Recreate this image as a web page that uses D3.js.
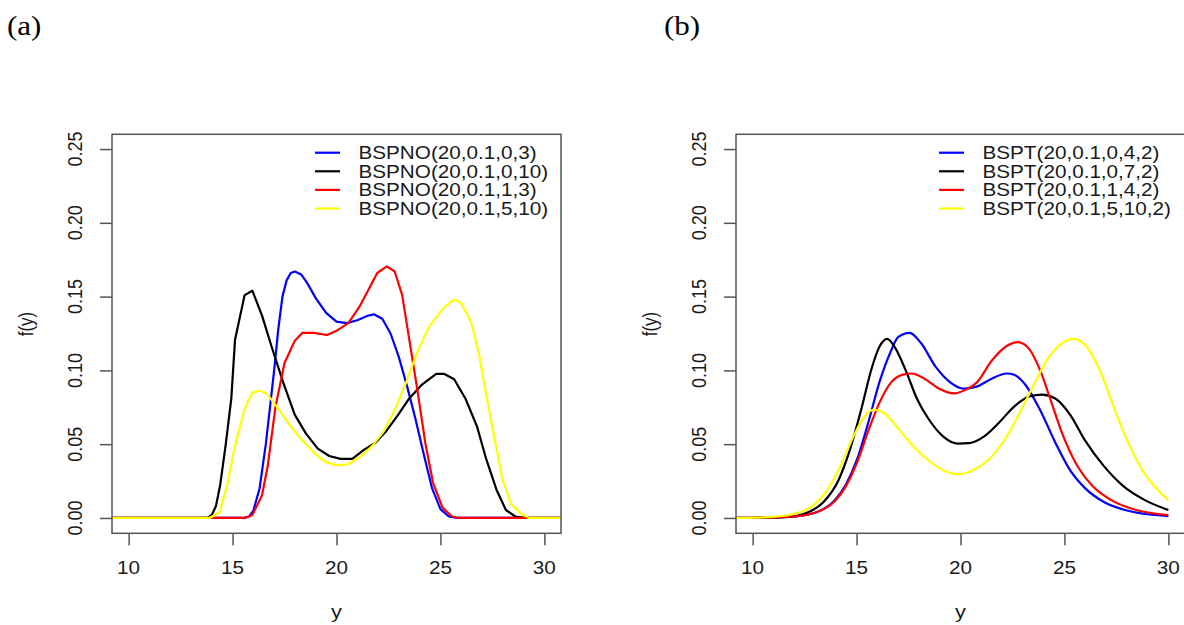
<!DOCTYPE html>
<html>
<head>
<meta charset="utf-8">
<script src="https://cdnjs.cloudflare.com/ajax/libs/d3/7.8.5/d3.min.js"></script>
<style>
  html, body { margin: 0; padding: 0; background: #fff; }
  svg { display: block; }
</style>
</head>
<body>
<svg id="chart" width="1184" height="625"></svg>
<script>
// ---------- Data ----------
const xTicks = [10, 15, 20, 25, 30];
const yTicks = [0, 0.05, 0.10, 0.15, 0.20, 0.25];
const panelLabels = ["(a)", "(b)"];
const seriesColors = ["#0000ff", "#000000", "#ff0000", "#ffff00"];
const legendA = ["BSPNO(20,0.1,0,3)", "BSPNO(20,0.1,0,10)", "BSPNO(20,0.1,1,3)", "BSPNO(20,0.1,5,10)"];
const legendB = ["BSPT(20,0.1,0,4,2)", "BSPT(20,0.1,0,7,2)", "BSPT(20,0.1,1,4,2)", "BSPT(20,0.1,5,10,2)"];

// Panel (a): BSPNO densities
const aBlueX = [9.2, 15.5, 15.8, 16.0, 16.3, 16.6, 16.8, 17.0, 17.2, 17.4, 17.6, 17.8, 18.0, 18.3, 18.6, 19.0, 19.5, 20.0, 20.5, 21.0, 21.5, 21.8, 22.2, 22.6, 23.0, 23.4, 23.8, 24.2, 24.6, 25.0, 25.4, 25.8, 30.8];
const aBlueY = [0, 0, 0.001, 0.005, 0.02, 0.05, 0.075, 0.1, 0.128, 0.15, 0.161, 0.166, 0.167, 0.165, 0.159, 0.149, 0.139, 0.133, 0.132, 0.134, 0.137, 0.138, 0.135, 0.125, 0.109, 0.089, 0.067, 0.043, 0.02, 0.006, 0.001, 0, 0];
const aBlackX = [9.2, 13.8, 14.0, 14.2, 14.4, 14.66, 14.94, 15.12, 15.58, 15.95, 16.41, 16.88, 17.43, 17.99, 18.54, 19.1, 19.65, 20.2, 20.76, 21.3, 21.87, 22.4, 22.97, 23.5, 24.08, 24.8, 25.19, 25.66, 26.2, 26.76, 27.2, 27.7, 28.15, 28.6, 29.07, 30.8];
const aBlackY = [0, 0, 0.002, 0.008, 0.022, 0.0485, 0.081, 0.121, 0.151, 0.154, 0.1375, 0.116, 0.092, 0.070, 0.057, 0.047, 0.042, 0.040, 0.040, 0.046, 0.051, 0.059, 0.070, 0.081, 0.090, 0.0976, 0.0976, 0.094, 0.081, 0.062, 0.040, 0.019, 0.0054, 0.001, 0, 0];
const aRedX = [9.2, 15.6, 15.95, 16.41, 16.69, 17.06, 17.5, 17.99, 18.35, 18.9, 19.55, 20.0, 20.57, 21.1, 21.96, 22.42, 22.8, 23.16, 23.5, 23.9, 24.27, 24.64, 25.1, 25.56, 25.9, 30.8];
const aRedY = [0, 0, 0.002, 0.015, 0.035, 0.075, 0.105, 0.12, 0.1254, 0.1254, 0.124, 0.1268, 0.132, 0.143, 0.166, 0.1705, 0.167, 0.151, 0.121, 0.086, 0.051, 0.024, 0.007, 0.001, 0, 0];
const aYellowX = [9.2, 13.9, 14.38, 14.75, 15.12, 15.58, 15.95, 16.32, 16.69, 17.25, 17.8, 18.35, 18.9, 19.46, 20.0, 20.57, 21.1, 21.7, 22.24, 22.8, 23.35, 23.9, 24.45, 25.19, 25.66, 26.0, 26.5, 26.86, 27.2, 27.6, 27.97, 28.4, 28.9, 29.26, 30.8];
const aYellowY = [0, 0, 0.004, 0.023, 0.049, 0.074, 0.085, 0.0863, 0.0836, 0.073, 0.062, 0.0526, 0.0445, 0.038, 0.0356, 0.0364, 0.041, 0.0485, 0.058, 0.073, 0.0917, 0.113, 0.1295, 0.143, 0.148, 0.1456, 0.132, 0.1106, 0.0836, 0.054, 0.027, 0.0094, 0.0027, 0, 0];

// Panel (b): BSPT densities
const bBlueX = [9.2, 11, 12, 13, 13.95, 14.5, 15.03, 15.57, 16.1, 16.65, 17.0, 17.55, 18.09, 18.8, 19.52, 20.15, 20.78, 21.5, 22.22, 22.58, 23.12, 23.84, 24.56, 25.27, 25.99, 26.9, 27.79, 28.87, 30];
const bBlueY = [0, 0.0003, 0.001, 0.0035, 0.012, 0.023, 0.040, 0.065, 0.092, 0.113, 0.1225, 0.1254, 0.1187, 0.1025, 0.0917, 0.0876, 0.089, 0.0944, 0.0979, 0.097, 0.0903, 0.0728, 0.0512, 0.0324, 0.0202, 0.0108, 0.0059, 0.0027, 0.0013];
const bBlackX = [9.2, 11.6, 12.7, 13.41, 14.13, 14.67, 15.21, 15.75, 16.1, 16.47, 16.83, 17.37, 17.9, 18.45, 19.16, 19.88, 20.42, 21.14, 21.86, 22.58, 23.3, 23.93, 24.56, 25.27, 25.99, 26.9, 27.79, 28.87, 30];
const bBlackY = [0, 0.0005, 0.004, 0.0108, 0.0256, 0.0458, 0.0728, 0.1025, 0.116, 0.1214, 0.116, 0.0998, 0.081, 0.0674, 0.0553, 0.0504, 0.0507, 0.0553, 0.0647, 0.0755, 0.0823, 0.0836, 0.081, 0.0701, 0.0526, 0.0351, 0.0221, 0.0121, 0.0054];
const bRedX = [9.2, 11, 12, 13, 13.95, 14.49, 15.03, 15.57, 16.1, 16.65, 17.19, 17.64, 18.27, 18.98, 19.7, 20.24, 20.78, 21.5, 22.22, 22.76, 23.3, 23.84, 24.38, 24.91, 25.63, 26.35, 27.25, 28.33, 30];
const bRedY = [0, 0.0003, 0.001, 0.0035, 0.0113, 0.0216, 0.0378, 0.0593, 0.078, 0.0917, 0.097, 0.0979, 0.0944, 0.0876, 0.0844, 0.0868, 0.0917, 0.1065, 0.1165, 0.1192, 0.1146, 0.0998, 0.078, 0.0566, 0.035, 0.0216, 0.0121, 0.0059, 0.0019];
const bYellowX = [9.2, 10.72, 11.98, 12.87, 13.59, 14.31, 14.85, 15.39, 15.84, 16.29, 17.0, 17.73, 18.45, 19.16, 19.88, 20.6, 21.32, 22.04, 22.76, 23.48, 24.2, 24.91, 25.45, 25.99, 26.71, 27.43, 28.15, 28.87, 29.6, 30];
const bYellowY = [0, 0.0005, 0.0027, 0.008, 0.0189, 0.0378, 0.0553, 0.0688, 0.0734, 0.0715, 0.0607, 0.0485, 0.0391, 0.0324, 0.0297, 0.0324, 0.0391, 0.0512, 0.0688, 0.089, 0.1079, 0.1187, 0.1214, 0.1173, 0.0998, 0.0728, 0.0485, 0.0297, 0.0175, 0.0121];

// ---------- Drawing ----------
const svg = d3.select("#chart");
const K = 1.15; // horizontal text stretch seen in the reference
const FONT = "'Liberation Sans', Arial, Helvetica, sans-serif";
const SERIF = "'Liberation Serif', 'Times New Roman', serif";

const panels = [
  { left: 112, labelX: 7, legend: legendA, curve: d3.curveLinear,
    series: [[aBlueX, aBlueY], [aBlackX, aBlackY], [aRedX, aRedY], [aYellowX, aYellowY]] },
  { left: 736, labelX: 664, legend: legendB, curve: d3.curveMonotoneX,
    series: [[bBlueX, bBlueY], [bBlackX, bBlackY], [bRedX, bRedY], [bYellowX, bYellowY]] }
];

const boxW = 449, plotTop = 134.3, plotBottom = 533.3;

function stretchedText(g, x, y, txt, opts) {
  return g.append("text")
    .attr("transform", `translate(${x},${y}) scale(${K},1)` + (opts.rotate ? " rotate(-90)" : ""))
    .attr("font-family", opts.family || FONT)
    .attr("font-size", opts.size || 18)
    .attr("fill", opts.fill || "#1a1a1a")
    .attr("text-anchor", opts.anchor || "middle")
    .text(txt);
}

panels.forEach((p, pi) => {
  const x = d3.scaleLinear().domain([9.2, 30.8]).range([p.left, p.left + boxW]);
  const y = d3.scaleLinear().domain([-0.0104, 0.26]).range([plotBottom, plotTop]);
  const g = svg.append("g");

  // panel label
  stretchedText(g, p.labelX, 35, panelLabels[pi], { family: SERIF, size: 27, anchor: "start", fill: "#000" });

  // curves
  const line = d3.line().x(d => x(d[0])).y(d => y(d[1])).curve(p.curve);
  p.series.forEach((s, i) => {
    const pts = s[0].map((xv, j) => [xv, s[1][j]]);
    g.append("path").datum(pts)
      .attr("d", line)
      .attr("fill", "none")
      .attr("stroke", seriesColors[i])
      .attr("stroke-width", 2.2)
      .attr("stroke-linejoin", "round");
  });

  // box
  g.append("rect")
    .attr("x", p.left).attr("y", plotTop)
    .attr("width", boxW).attr("height", plotBottom - plotTop)
    .attr("fill", "none").attr("stroke", "#555").attr("stroke-width", 1.5);

  // x axis ticks
  const xa = g.append("g").attr("transform", `translate(0,${plotBottom})`)
    .call(d3.axisBottom(x).tickValues(xTicks).tickSize(12).tickFormat(""));
  xa.select(".domain").remove();
  xa.selectAll("line").attr("stroke", "#555").attr("stroke-width", 1.5);
  xTicks.forEach(t => stretchedText(g, x(t), 574, String(t), {}));

  // y axis ticks
  const ya = g.append("g").attr("transform", `translate(${p.left},0)`)
    .call(d3.axisLeft(y).tickValues(yTicks).tickSize(12).tickFormat(""));
  ya.select(".domain").remove();
  ya.selectAll("line").attr("stroke", "#555").attr("stroke-width", 1.5);
  yTicks.forEach(t => stretchedText(g, p.left - 30, y(t), d3.format(".2f")(t), { rotate: true }));

  // axis titles
  stretchedText(g, p.left - 79, 324, "f(y)", { rotate: true, size: 17 });
  stretchedText(g, p.left + boxW / 2, 618, "y", { size: 19 });

  // legend
  p.legend.forEach((lab, i) => {
    const ly = 152.7 + i * 18.6;
    g.append("line")
      .attr("x1", p.left + 203).attr("x2", p.left + 228)
      .attr("y1", ly).attr("y2", ly)
      .attr("stroke", seriesColors[i]).attr("stroke-width", 2.2);
    stretchedText(g, p.left + 246.5, ly + 6.5, lab, { anchor: "start" });
  });
});
</script>
</body>
</html>
